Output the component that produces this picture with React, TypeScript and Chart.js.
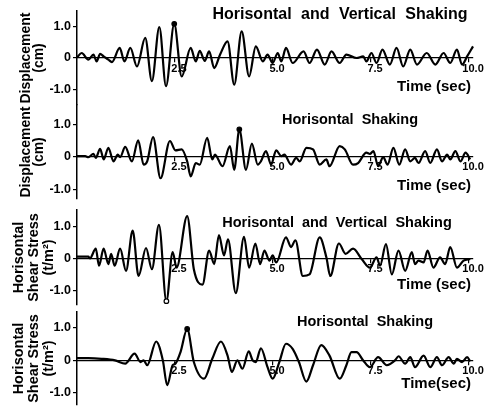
import React, { useEffect, useRef } from 'react';
import { Chart, registerables } from 'chart.js';

Chart.register(...registerables);

const FONT = "'Liberation Sans', Arial, Helvetica, sans-serif";

// ---- Data (time in sec, value) ----
const hvDispT = [0, 0.12, 0.29, 0.42, 0.5, 0.59, 0.68, 0.8, 0.89, 1.09, 1.21, 1.36, 1.53, 1.74, 1.91, 2.1, 2.27, 2.48, 2.67, 2.9, 3.03, 3.13, 3.26, 3.37, 3.5, 3.65, 3.84, 4.01, 4.2, 4.39, 4.56, 4.74, 4.86, 4.99, 5.12, 5.21, 5.33, 5.5, 5.78, 5.93, 6.12, 6.32, 6.49, 6.7, 6.87, 7.13, 7.3, 7.38, 7.51, 7.64, 7.79, 7.98, 8.15, 8.32, 8.5, 8.67, 8.92, 9.14, 9.35, 9.52, 9.69, 9.82, 9.95, 10.1];
const hvDispV = [0.02, 0.16, -0.05, 0.11, -0.11, 0.13, 0.05, -0.05, -0.13, 0.32, -0.11, 0.32, -0.27, 0.64, -0.74, 0.99, -0.9, 1.09, -0.59, 0.32, -0.11, 0.23, -0.09, 0.21, -0.32, 0.11, 0.53, -0.85, 0.85, -0.59, 0.37, -0.11, 0.11, -0.16, 0.16, -0.11, 0.32, -0.16, 0.21, -0.16, 0.27, -0.21, 0.21, -0.16, 0.11, 0.0, 0.05, -0.11, 0.16, -0.16, 0.27, -0.21, 0.32, -0.27, 0.27, -0.21, 0.16, -0.21, 0.16, -0.16, 0.27, -0.21, 0.05, 0.37];

const hDispT = [0, 0.21, 0.29, 0.42, 0.48, 0.59, 0.68, 0.8, 0.93, 1.04, 1.1, 1.23, 1.4, 1.56, 1.7, 1.79, 1.94, 2.13, 2.37, 2.51, 2.67, 2.81, 2.9, 3.03, 3.13, 3.32, 3.45, 3.52, 3.71, 3.9, 4.01, 4.14, 4.31, 4.46, 4.61, 4.69, 4.82, 4.95, 5.08, 5.21, 5.29, 5.46, 5.59, 5.68, 5.85, 6.02, 6.19, 6.36, 6.44, 6.7, 6.83, 7.04, 7.17, 7.38, 7.47, 7.56, 7.68, 7.81, 7.92, 8.07, 8.22, 8.37, 8.5, 8.62, 8.71, 8.88, 9.01, 9.18, 9.31, 9.44, 9.52, 9.65, 9.78, 9.91, 10.03];
const hDispV = [0.02, 0.02, -0.01, 0.09, -0.03, 0.25, -0.08, 0.28, -0.14, 0.07, -0.01, 0.31, -0.14, 0.51, -0.24, -0.14, 0.61, -0.66, 0.49, 0.2, 0.23, -0.14, -0.6, -0.19, -0.24, 0.59, -0.08, 0.07, -0.29, 0.33, -0.4, 0.85, -0.4, 0.41, -0.24, -0.14, 0.18, -0.24, 0.2, 0.02, 0.07, -0.24, -0.03, -0.14, 0.28, 0.23, -0.24, -0.08, -0.29, 0.33, 0.23, -0.24, -0.19, 0.13, 0.09, 0.18, -0.29, -0.01, -0.24, 0.28, -0.24, 0.23, -0.14, -0.03, -0.19, 0.18, -0.19, 0.23, -0.14, 0.07, -0.08, 0.18, -0.14, 0.13, -0.08];

const hvStressT = [0, 0.29, 0.33, 0.48, 0.56, 0.68, 0.8, 0.87, 0.96, 1.1, 1.25, 1.42, 1.57, 1.76, 1.91, 2.09, 2.28, 2.44, 2.54, 2.81, 2.98, 3.2, 3.37, 3.5, 3.62, 3.75, 3.85, 4.05, 4.26, 4.39, 4.55, 4.67, 4.78, 4.91, 4.99, 5.08, 5.33, 5.46, 5.57, 5.76, 5.93, 6.19, 6.36, 6.46, 6.68, 6.85, 7.04, 7.26, 7.47, 7.64, 7.73, 7.88, 8.03, 8.2, 8.37, 8.54, 8.62, 8.71, 8.84, 8.94, 9.09, 9.26, 9.39, 9.52, 9.69, 9.86, 10.03];
const hvStressV = [0.05, 0.05, 0, 0.3, -0.23, 0.3, -0.18, 0.14, -0.23, 0.3, -0.39, 0.86, -0.55, 0.32, -0.34, 1.04, -1.33, 0.19, -0.29, 1.31, -0.34, -0.82, 0.24, -0.18, 0.72, 0.09, 0.59, -1.08, 0.67, -0.29, 0.46, -0.18, 0.24, -0.07, 0.09, -0.13, 0.65, 0.35, 0.56, -0.55, -0.5, 0.65, 0.03, -0.55, 0.46, 0.14, 0.3, -0.02, -0.29, 0.03, -0.23, 0.44, -0.5, 0.24, -0.39, 0.19, -0.18, -0.07, -0.13, 0.24, -0.29, 0.03, -0.18, 0.35, -0.29, -0.07, -0.02];

const hStressT = [0, 0.29, 0.63, 0.97, 1.23, 1.47, 1.62, 1.7, 1.79, 2.02, 2.19, 2.3, 2.44, 2.51, 2.64, 2.81, 2.98, 3.24, 3.45, 3.67, 3.84, 3.95, 4.09, 4.22, 4.38, 4.48, 4.56, 4.69, 4.86, 4.99, 5.16, 5.33, 5.5, 5.66, 5.85, 6.02, 6.23, 6.44, 6.7, 6.87, 7.0, 7.13, 7.3, 7.47, 7.68, 7.9, 8.11, 8.2, 8.37, 8.5, 8.62, 8.84, 9.01, 9.18, 9.31, 9.48, 9.61, 9.69, 9.82, 9.95, 10.03];
const hStressV = [0.06, 0.06, 0.04, -0.01, -0.11, 0.2, -0.06, -0.01, -0.16, 0.58, -0.01, -0.78, -0.16, -0.11, 0.25, 0.97, -0.06, -0.58, 0.04, 0.58, 0.14, -0.37, -0.01, -0.27, 0.27, -0.01, -0.06, 0.37, -0.22, -0.58, -0.06, 0.51, 0.35, -0.06, -0.67, -0.16, 0.47, 0.14, -0.58, -0.16, 0.25, 0.25, -0.01, -0.22, 0.09, -0.16, -0.01, 0.12, -0.11, 0.09, -0.22, 0.14, -0.22, 0.09, -0.16, 0.09, -0.11, 0.04, -0.06, 0.09, -0.04];

// marked extreme points (time of marker on each record)
const markTimes = [2.48, 4.14, 2.28, 2.81];

const xTickValues = [2.5, 5, 7.5, 10];
const yTickValues = [-1, 0, 1];

const panelTitles = [
  'Horisontal and Vertical Shaking',
  'Horisontal Shaking',
  'Horisontal and Vertical Shaking',
  'Horisontal Shaking',
];
const yTitles = [
  ['Displacement', '(cm)'],
  ['Displacement', '(cm)'],
  ['Horisontal', 'Shear Stress', '(t/m²)'],
  ['Horisontal', 'Shear Stress', '(t/m²)'],
];
const timeLabels = ['Time (sec)', 'Time (sec)', 'Time (sec)', 'Time(sec)'];

// ---- Layout / style per panel ----
type Layout = {
  canvasTop: number; canvasH: number; areaTop: number; areaBottom: number;
  yMin: number; yMax: number;
  titleCx: number; titleY: number; titleSize: number; wordSpacing: number;
  timeDy: number;
  yTitleSize: number; yTitleLine: number; yTitlePad: number;
  markFill: string;
};

const layouts: Layout[] = [
  { canvasTop: 0, canvasH: 118, areaTop: 11, areaBottom: 105, yMin: -1.5, yMax: 1.5, titleCx: 340, titleY: 15, titleSize: 16, wordSpacing: 5, timeDy: 29, yTitleSize: 14, yTitleLine: 13, yTitlePad: 20, markFill: '#000' },
  { canvasTop: 92, canvasH: 120, areaTop: 105, areaBottom: 199, yMin: -1.3, yMax: 1.6, titleCx: 350, titleY: 120, titleSize: 14.5, wordSpacing: 4, timeDy: 29, yTitleSize: 14, yTitleLine: 13, yTitlePad: 20, markFill: '#000' },
  { canvasTop: 197, canvasH: 121, areaTop: 210, areaBottom: 305, yMin: -1.45, yMax: 1.5, titleCx: 337, titleY: 223, titleSize: 14.5, wordSpacing: 4, timeDy: 27, yTitleSize: 14.5, yTitleLine: 15, yTitlePad: 11, markFill: '#fff' },
  { canvasTop: 299, canvasH: 120, areaTop: 312, areaBottom: 405, yMin: -1.4, yMax: 1.5, titleCx: 365, titleY: 322, titleSize: 14.5, wordSpacing: 4, timeDy: 24, yTitleSize: 14.5, yTitleLine: 15, yTitlePad: 11, markFill: '#000' },
];

const series = [
  { t: hvDispT, v: hvDispV },
  { t: hDispT, v: hDispV },
  { t: hvStressT, v: hvStressV },
  { t: hStressT, v: hStressV },
];

const W = 491;
const AXIS_LEFT = 77;
const AREA_RIGHT = 473;

function Panel({ idx }: { idx: number }) {
  const ref = useRef<HTMLCanvasElement>(null);
  const L = layouts[idx];
  useEffect(() => {
    const s = series[idx];
    const mark = markTimes[idx];
    const textPlugin = {
      id: 'panelText' + idx,
      afterDraw(chart: any) {
        const ctx = chart.ctx as any;
        const xs = chart.scales.x;
        const ys = chart.scales.y;
        ctx.save();
        ctx.fillStyle = '#000';
        ctx.font = `bold ${L.titleSize}px ${FONT}`;
        ctx.wordSpacing = `${L.wordSpacing}px`;
        ctx.textAlign = 'center';
        ctx.textBaseline = 'middle';
        ctx.fillText(panelTitles[idx], L.titleCx, L.titleY - L.canvasTop);
        ctx.wordSpacing = '0px';
        ctx.font = `bold 15px ${FONT}`;
        ctx.textAlign = 'right';
        ctx.fillText(timeLabels[idx], xs.right - 2, ys.getPixelForValue(0) + L.timeDy);
        ctx.restore();
      },
    };
    const chart = new Chart(ref.current as HTMLCanvasElement, {
      type: 'line',
      data: {
        datasets: [
          {
            data: s.t.map((t, i) => ({ x: t, y: s.v[i] })),
            borderColor: '#000',
            borderWidth: 2.2,
            cubicInterpolationMode: 'monotone',
            pointRadius: (c: any) => (c.raw && c.raw.x === mark ? 2.3 : 0),
            pointHoverRadius: 0,
            pointBackgroundColor: L.markFill,
            pointBorderColor: '#000',
            pointBorderWidth: 1.2,
            clip: false,
          } as any,
        ],
      },
      options: {
        responsive: false,
        animation: false,
        events: [],
        layout: {
          padding: {
            left: 0,
            right: W - AREA_RIGHT,
            top: L.areaTop - L.canvasTop,
            bottom: L.canvasTop + L.canvasH - L.areaBottom,
          },
        },
        plugins: { legend: { display: false }, tooltip: { enabled: false } },
        scales: {
          x: {
            type: 'linear',
            position: { y: 0 } as any,
            min: 0,
            max: 10.1,
            afterBuildTicks: (axis: any) => {
              axis.ticks = xTickValues.map((v) => ({ value: v }));
            },
            grid: { drawOnChartArea: false, color: '#000', tickLength: 4, lineWidth: 1.2 },
            border: { color: '#000', width: 1.2 },
            ticks: {
              color: '#000',
              font: { family: FONT, size: 11, weight: 'bold' },
              maxRotation: 0,
              autoSkip: false,
              padding: 0,
              labelOffset: 4,
              callback: (v: any) => Number(v).toFixed(1),
            },
          },
          y: {
            type: 'linear',
            min: L.yMin,
            max: L.yMax,
            afterBuildTicks: (axis: any) => {
              axis.ticks = yTickValues.map((v) => ({ value: v }));
            },
            afterFit: (axis: any) => {
              axis.width = AXIS_LEFT;
            },
            grid: { drawOnChartArea: false, color: '#000', tickLength: 4, lineWidth: 1.2 },
            border: { color: '#000', width: 1.5 },
            ticks: {
              color: '#000',
              font: { family: FONT, size: 12.5, weight: 'bold' },
              padding: 2,
              callback: (v: any) => (Number(v) === 0 ? '0' : Number(v).toFixed(1)),
            },
            title: {
              display: true,
              text: yTitles[idx],
              color: '#000',
              font: { family: FONT, size: L.yTitleSize, weight: 'bold', lineHeight: `${L.yTitleLine}px` },
              padding: { top: L.yTitlePad, bottom: 0 },
            },
          },
        },
      } as any,
      plugins: [textPlugin],
    });
    return () => chart.destroy();
  }, [idx]);
  return (
    <canvas
      ref={ref}
      width={W}
      height={L.canvasH}
      style={{ position: 'absolute', left: 0, top: L.canvasTop, width: W, height: L.canvasH }}
    />
  );
}

export default function App() {
  return (
    <div style={{ position: 'fixed', left: 0, top: 0, width: W, height: 411, background: '#fff', overflow: 'hidden' }}>
      {[0, 1, 2, 3].map((i) => (
        <Panel key={i} idx={i} />
      ))}
    </div>
  );
}
